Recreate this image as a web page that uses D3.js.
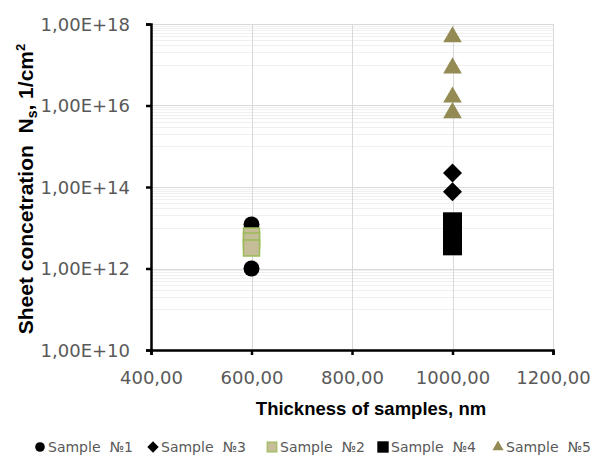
<!DOCTYPE html>
<html>
<head>
<meta charset="utf-8">
<script src="https://cdn.jsdelivr.net/npm/d3@7"></script>
<style>
  body { margin: 0; background: #fff; }
  svg { display: block; }
</style>
</head>
<body>
<div id="chart"></div>
<script>
var w = 595;
var h = 459;

// thickness of samples, nm
var xTicks = [400, 600, 800, 1000, 1200];
var yTicks = [1e10, 1e12, 1e14, 1e16, 1e18];

// sheet concentration values
var sample1 = [1.2e13, 1.0e12];
var sample3 = [2.2e14, 7.6e13];
var sample2 = [6.3e12, 4.7e12, 3.2e12];
var sample4 = [1.4e13, 9e12, 6e12, 3.6e12];
var sample5 = [4.8e17, 8.3e16, 1.6e16, 6.6e15];

var thick1 = 600, thick3 = 1000, thick2 = 600, thick4 = 1000, thick5 = 1000;
var names = ["Sample  \u21161", "Sample  \u21163", "Sample  \u21162", "Sample  \u21164", "Sample  \u21165"];

var x = d3.scaleLinear().domain([400, 1200]).range([151, 553]);
var y = d3.scaleLog().domain([1e10, 1e18]).range([350, 24]);

var svg = d3.select("#chart").append("svg")
    .attr("width", w)
    .attr("height", h);

// minor gridlines: k * 10^(odd decade)
var minor = [];
[11, 13, 15, 17].forEach(function (e) {
    for (var k = 1; k <= 9; k++) minor.push(k * Math.pow(10, e));
});
svg.append("g").selectAll("line")
    .data(minor)
    .enter().append("line")
    .attr("x1", x(400)).attr("x2", x(1200))
    .attr("y1", d => Math.round(y(d)) + 0.5)
    .attr("y2", d => Math.round(y(d)) + 0.5)
    .attr("stroke", "#f0f0f0");

// major gridlines
svg.append("g").selectAll("line")
    .data(yTicks)
    .enter().append("line")
    .attr("x1", x(400)).attr("x2", x(1200))
    .attr("y1", d => Math.round(y(d)) + 0.5)
    .attr("y2", d => Math.round(y(d)) + 0.5)
    .attr("stroke", "#d9d9d9");

svg.append("g").selectAll("line")
    .data(xTicks)
    .enter().append("line")
    .attr("x1", d => Math.round(x(d)) + 0.5)
    .attr("x2", d => Math.round(x(d)) + 0.5)
    .attr("y1", y(1e18)).attr("y2", y(1e10))
    .attr("stroke", "#d9d9d9");

// axes
var yAxis = d3.axisLeft(y).tickValues(yTicks).tickSize(5).tickFormat(d => "1,00E+" + Math.round(Math.log10(d)));
var xAxis = d3.axisBottom(x).tickValues(xTicks).tickSize(5).tickFormat(d => d3.format(".2f")(d).replace(".", ","));

var gy = svg.append("g").attr("transform", "translate(" + x(400) + ",0)").call(yAxis);
var gx = svg.append("g").attr("transform", "translate(0," + y(1e10) + ")").call(xAxis);

[gy, gx].forEach(function (g) {
    g.select(".domain").attr("stroke", "#000").attr("stroke-width", 2.5);
    g.selectAll(".tick line").attr("stroke", "#000").attr("stroke-width", 2.5);
    g.selectAll(".tick text")
        .attr("fill", "#595959")
        .style("font-family", "DejaVu Sans")
        .style("font-size", "18px");
});
gy.selectAll(".tick text").attr("x", -21).attr("dy", "0.36em");
gx.selectAll(".tick text").attr("y", 21);

// axis titles
svg.append("text")
    .attr("x", 371).attr("y", 415)
    .attr("text-anchor", "middle")
    .style("font-family", "Liberation Sans")
    .style("font-weight", "bold")
    .style("font-size", "18.5px")
    .attr("fill", "#000")
    .text("Thickness of samples, nm");

var yt = svg.append("text")
    .attr("transform", "translate(33,189) rotate(-90)")
    .attr("text-anchor", "middle")
    .style("font-family", "Liberation Sans")
    .style("font-weight", "bold")
    .style("font-size", "21px")
    .style("white-space", "pre")
    .attr("fill", "#000");
yt.append("tspan").text("Sheet concetration  N");
yt.append("tspan").attr("dy", 4).style("font-size", "14px").text("s");
yt.append("tspan").attr("dy", -4).text(", 1/cm");
yt.append("tspan").attr("dy", -8).style("font-size", "13px").text("2");

// marker shapes
function marker(type) {
    if (type === "circle") return d3.symbol().type(d3.symbolCircle).size(Math.PI * 64)();
    if (type === "diamond") return "M0,-9.5L9.5,0L0,9.5L-9.5,0Z";
    if (type === "square") return d3.symbol().type(d3.symbolSquare).size(361)();
    if (type === "square2") return d3.symbol().type(d3.symbolSquare).size(256)();
    return d3.symbol().type(d3.symbolTriangle).size(150)();
}

var series = [
    { vals: sample1, t: thick1, shape: "circle", fill: "#000", stroke: "none" },
    { vals: sample3, t: thick3, shape: "diamond", fill: "#000", stroke: "none" },
    { vals: sample2, t: thick2, shape: "square2", fill: "#c4bd97", stroke: "#9bbb59" },
    { vals: sample4, t: thick4, shape: "square", fill: "#000", stroke: "none" },
    { vals: sample5, t: thick5, shape: "triangle", fill: "#948a54", stroke: "none" }
];

series.forEach(function (s) {
    svg.append("g").selectAll("path")
        .data(s.vals)
        .enter().append("path")
        .attr("d", marker(s.shape))
        .attr("transform", d => "translate(" + x(s.t) + "," + y(d) + ")")
        .attr("fill", s.fill)
        .attr("stroke", s.stroke)
        .attr("stroke-width", 1.5);
});

// legend
var legendX = [40, 153, 272, 383, 498];
var lg = svg.append("g").attr("transform", "translate(0,447)");
series.forEach(function (s, i) {
    var item = lg.append("g").attr("transform", "translate(" + legendX[i] + ",0)");
    var path = marker(s.shape);
    item.append("path")
        .attr("d", path)
        .attr("transform", "scale(0.6)")
        .attr("fill", s.fill)
        .attr("stroke", s.stroke)
        .attr("stroke-width", 2);
    item.append("text")
        .attr("x", 8).attr("dy", "0.36em")
        .style("font-family", "DejaVu Sans")
        .style("font-size", "14px")
        .style("white-space", "pre")
        .attr("fill", "#595959")
        .text(names[i]);
});
</script>
</body>
</html>
